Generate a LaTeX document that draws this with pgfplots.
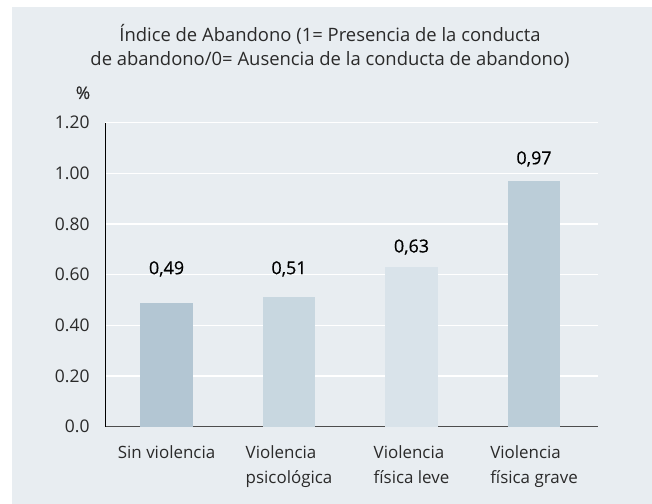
\documentclass[border=0pt]{standalone}
\usepackage{fontspec}
\setmainfont{Open Sans}
\newfontfamily\labfont[FakeBold=0.35]{Open Sans}
\usepackage{pgfplots}
\pgfplotsset{compat=1.18}
\usepackage{pgfplotstable}
\definecolor{bg}{HTML}{E8EDF1}
\definecolor{barA}{HTML}{B3C6D3}
\definecolor{barB}{HTML}{C8D7E0}
\definecolor{barC}{HTML}{D9E3EA}
\definecolor{barD}{HTML}{BBCDD8}
\definecolor{tc}{HTML}{2A2A2A}
\definecolor{xax}{HTML}{4D4D4D}
\pgfplotstableread{
x ly lab
0.5 0.623 0,49
1.5 0.623 0,51
2.5 0.709 0,63
3.5 1.057 0,97
}\labeltab
\begin{document}
\begin{tikzpicture}[x=1bp,y=1bp]
\fill[white] (0,0) rectangle (652,504);
\fill[bg] (12,0) rectangle (652,496.7);
\useasboundingbox (0,0) rectangle (652,504);
\node[font=\fontsize{18.5}{24}\selectfont, text=tc, anchor=base] at (330,462.3) {Índice de Abandono (1= Presencia de la conducta};
\node[font=\fontsize{18.5}{24}\selectfont, text=tc, anchor=base] at (330,438.3) {de abandono/0= Ausencia de la conducta de abandono)};
\node[font=\labfont\fontsize{17.5}{20}\selectfont, text=tc, anchor=base] at (83,405) {\%};
\begin{axis}[
  at={(105.3bp,77.3bp)}, anchor=south west,
  scale only axis, width=492.4bp, height=304bp,
  xmin=0, xmax=4.02, ymin=0, ymax=1.2,
  axis lines=left,
  x axis line style={-, draw=xax, line width=1.3bp},
  y axis line style={-, draw=black, line width=1bp},
  ytick={0,0.2,0.4,0.6,0.8,1.0,1.2},
  yticklabels={0.0,0.20,0.40,0.60,0.80,1.00,1.20},
  ytick style={draw=none},
  yticklabel style={inner sep=0pt, xshift=-13.5bp, font=\fontsize{17.5}{20}\selectfont, text=tc},
  xtick={0.5,1.5,2.5,3.5},
  xticklabels={Sin violencia,{Violencia\\psicológica},{Violencia\\física leve},{Violencia\\física grave}},
  xtick style={draw=none},
  xticklabel style={align=left, inner sep=0pt, yshift=-17bp, font=\fontsize{17}{25}\selectfont, text=tc},
  extra x ticks={0,1,2,3},
  extra x tick labels={},
  extra x tick style={tick style={draw=xax, line width=1bp}, tick align=outside, major tick length=5bp},
  ymajorgrids, grid style={white, line width=1.3bp},
  clip=false,
]
\addplot[ybar, bar width=0.43, bar shift=0pt, fill=barA, draw=none] coordinates {(0.5,0.49)};
\addplot[ybar, bar width=0.43, bar shift=0pt, fill=barB, draw=none] coordinates {(1.5,0.51)};
\addplot[ybar, bar width=0.43, bar shift=0pt, fill=barC, draw=none] coordinates {(2.5,0.63)};
\addplot[ybar, bar width=0.43, bar shift=0pt, fill=barD, draw=none] coordinates {(3.5,0.97)};
\addplot[draw=none, mark=none, nodes near coords, point meta=explicit symbolic,
  nodes near coords style={anchor=center, yshift=0pt, inner sep=0pt, font=\labfont\fontsize{18}{20}\selectfont, text=black}]
  table[x=x, y=ly, meta=lab] {\labeltab};
\end{axis}
\end{tikzpicture}
\end{document}
